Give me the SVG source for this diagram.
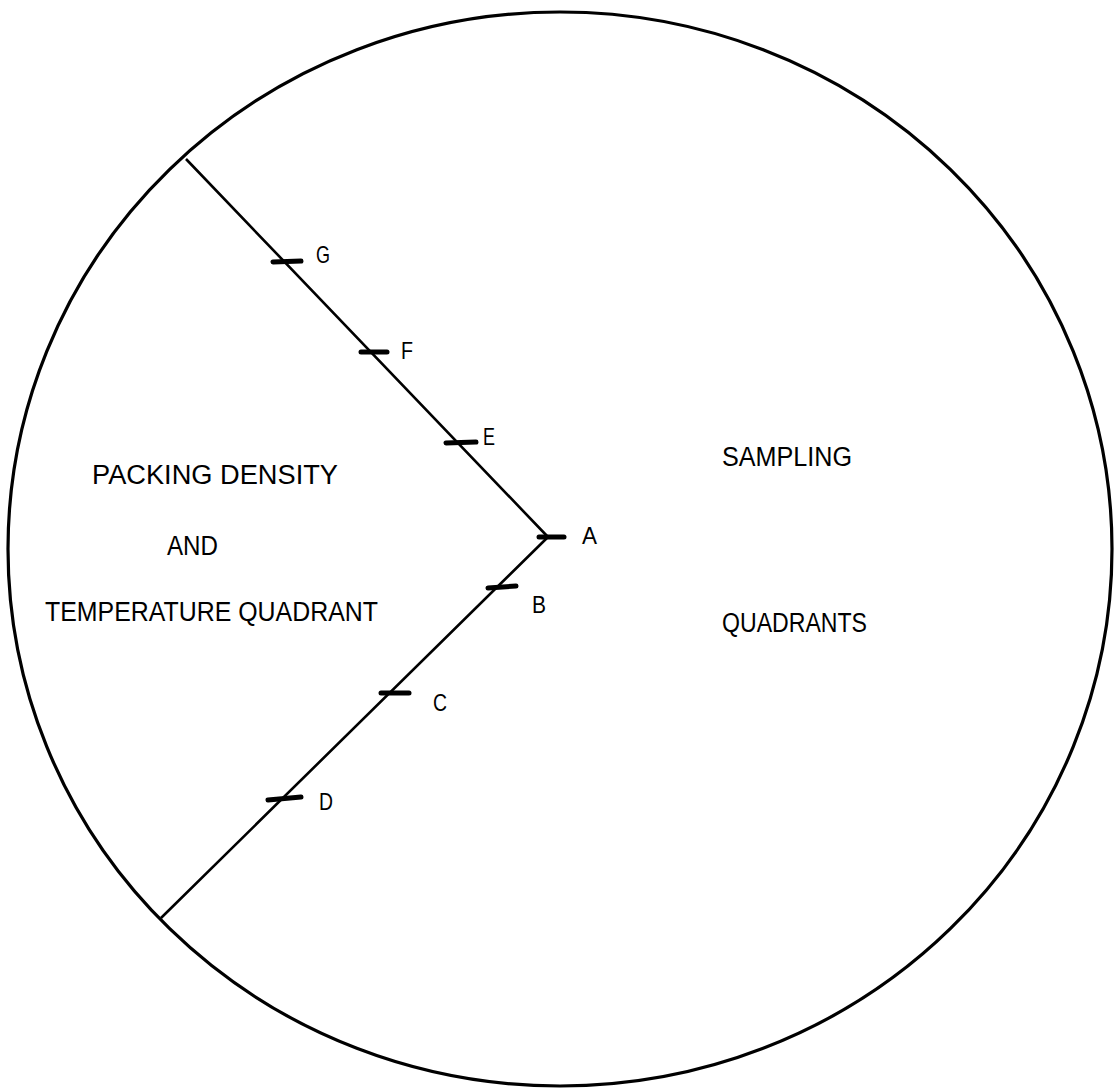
<svg xmlns="http://www.w3.org/2000/svg" width="1114" height="1091" viewBox="0 0 1114 1091">
<style>
.outline{fill:none;stroke:#000;stroke-width:3.2}
.edge{fill:none;stroke:#000;stroke-width:2.6;stroke-linejoin:round}
.tick{stroke:#000;stroke-width:5;stroke-linecap:round}
.lbl{font-family:"Liberation Sans",Arial,sans-serif;font-size:24px;fill:#000}
.txt{font-family:"Liberation Sans",Arial,sans-serif;font-size:27px;fill:#000}
</style>
<rect width="1114" height="1091" fill="#fff"/>
<g id="circle"><ellipse class="outline" cx="560" cy="549" rx="552" ry="537"/></g>
<g id="connectors">
<polyline class="edge" points="186,159 548,537 161,918"/>
</g>
<g id="tick-G"><line class="tick" x1="273" y1="262" x2="301" y2="261"/><text class="lbl" x="316" y="263" textLength="14" lengthAdjust="spacingAndGlyphs">G</text></g>
<g id="tick-F"><line class="tick" x1="361" y1="352" x2="387" y2="352"/><text class="lbl" x="401" y="359" textLength="12" lengthAdjust="spacingAndGlyphs">F</text></g>
<g id="tick-E"><line class="tick" x1="446" y1="443" x2="476" y2="442"/><text class="lbl" x="483" y="445" textLength="12" lengthAdjust="spacingAndGlyphs">E</text></g>
<g id="tick-A"><line class="tick" x1="539" y1="537" x2="564" y2="537"/><text class="lbl" x="582" y="544" textLength="15" lengthAdjust="spacingAndGlyphs">A</text></g>
<g id="tick-B"><line class="tick" x1="488" y1="588" x2="516" y2="586"/><text class="lbl" x="532" y="613" textLength="14" lengthAdjust="spacingAndGlyphs">B</text></g>
<g id="tick-C"><line class="tick" x1="381" y1="693" x2="409" y2="693"/><text class="lbl" x="433" y="711" textLength="14" lengthAdjust="spacingAndGlyphs">C</text></g>
<g id="tick-D"><line class="tick" x1="268" y1="800" x2="301" y2="797"/><text class="lbl" x="319" y="810" textLength="14" lengthAdjust="spacingAndGlyphs">D</text></g>
<g id="left-label">
<text class="txt" x="92" y="484" textLength="246" lengthAdjust="spacingAndGlyphs">PACKING DENSITY</text>
<text class="txt" x="167" y="555" textLength="51" lengthAdjust="spacingAndGlyphs">AND</text>
<text class="txt" x="45" y="621" textLength="333" lengthAdjust="spacingAndGlyphs">TEMPERATURE QUADRANT</text>
</g>
<g id="right-label">
<text class="txt" x="722" y="466" textLength="130" lengthAdjust="spacingAndGlyphs">SAMPLING</text>
<text class="txt" x="722" y="632" textLength="145" lengthAdjust="spacingAndGlyphs">QUADRANTS</text>
</g>
</svg>
